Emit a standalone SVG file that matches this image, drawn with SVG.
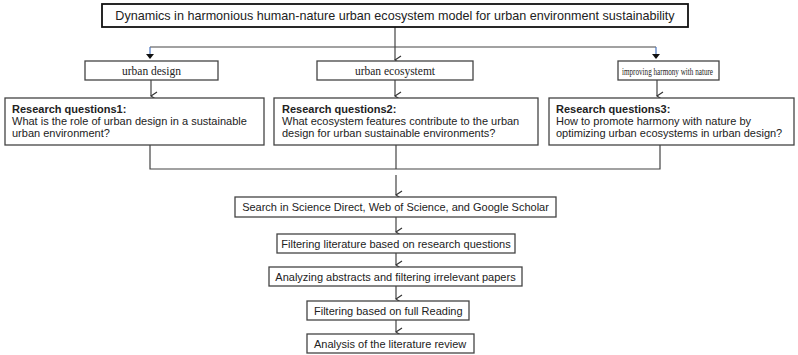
<svg xmlns="http://www.w3.org/2000/svg" width="798" height="355" viewBox="0 0 798 355">
<style>
.box{fill:#fff;stroke:#444;stroke-width:1.3}
.title{fill:#fff;stroke:#111;stroke-width:1.8}
.sans{font-family:"Liberation Sans",Arial,sans-serif;font-size:11px;fill:#222}
.ser{font-family:"Liberation Serif","Times New Roman",serif;font-size:11.5px;fill:#222}
.b{font-weight:bold}
.ln{fill:none;stroke:#444;stroke-width:1.2}
.blue{fill:none;stroke:#4a76c0;stroke-width:1.2}
</style>
<defs>
<marker id="open" markerWidth="10" markerHeight="10" refX="5" refY="9" orient="auto-start-reverse" markerUnits="userSpaceOnUse" viewBox="0 0 10 10">
<path d="M1,3 L5,9 L9,3" fill="none" stroke="#333" stroke-width="1.2"/>
</marker>
</defs>
<g id="connectors">
<path class="ln" d="M395,27 V60" marker-end="url(#open)"/>
<path class="ln" d="M150,47 H656"/>
<path class="blue" d="M150,47 V54"/>
<path d="M146,54 H154 L150,59 Z" fill="#111"/>
<path class="blue" d="M656,47 V54"/>
<path d="M652,54 H660 L656,59 Z" fill="#111"/>
<path class="ln" d="M151,80 V96" marker-end="url(#open)"/>
<path class="ln" d="M395,80 V96" marker-end="url(#open)"/>
<path class="ln" d="M657,80 V96" marker-end="url(#open)"/>
<path class="ln" d="M150,145 V169 H660 V145"/>
<path class="ln" d="M396,145 V169"/>
<path class="ln" d="M396,175 V195" marker-end="url(#open)"/>
<path class="ln" d="M396,217 V232" marker-end="url(#open)"/>
<path class="ln" d="M396,253 V265" marker-end="url(#open)"/>
<path class="ln" d="M396,286 V299" marker-end="url(#open)"/>
<path class="ln" d="M396,320 V332" marker-end="url(#open)"/>
</g>
<g id="title">
<rect class="title" x="102" y="4" width="586" height="23"/>
<text x="395" y="20" text-anchor="middle" class="sans" style="font-size:12.6px">Dynamics in harmonious human-nature urban ecosystem model for urban environment sustainability</text>
</g>
<g id="urban-design">
<rect class="box" x="85" y="61" width="133" height="19"/>
<text x="151.5" y="75" text-anchor="middle" class="ser">urban design</text>
</g>
<g id="urban-ecosystemt">
<rect class="box" x="317" y="61" width="156" height="19"/>
<text x="395" y="75" text-anchor="middle" class="ser">urban ecosystemt</text>
</g>
<g id="improving-harmony">
<rect class="box" x="618" y="61" width="101" height="19"/>
<text x="622" y="74.5" class="ser" style="font-size:10.5px" textLength="91" lengthAdjust="spacingAndGlyphs">improving harmony with nature</text>
</g>
<g id="rq1">
<rect class="box" x="5" y="98" width="259" height="47"/>
<text x="12" y="113" class="sans b">Research questions1:</text>
<text x="12" y="125" class="sans">What is the role of urban design in a sustainable</text>
<text x="12" y="136.5" class="sans">urban environment?</text>
</g>
<g id="rq2">
<rect class="box" x="274" y="98" width="264" height="47"/>
<text x="282" y="113" class="sans b">Research questions2:</text>
<text x="282" y="125" class="sans">What ecosystem features contribute to the urban</text>
<text x="282" y="136.5" class="sans">design for urban sustainable environments?</text>
</g>
<g id="rq3">
<rect class="box" x="549" y="98" width="245" height="47"/>
<text x="556" y="113" class="sans b">Research questions3:</text>
<text x="556" y="125" class="sans">How to promote harmony with nature by</text>
<text x="556" y="136.5" class="sans">optimizing urban ecosystems in urban design?</text>
</g>
<g id="search">
<rect class="box" x="235" y="197" width="321" height="20"/>
<text x="395.5" y="211" text-anchor="middle" class="sans">Search in Science Direct, Web of Science, and Google Scholar</text>
</g>
<g id="filter-rq">
<rect class="box" x="277" y="234" width="238" height="19"/>
<text x="396" y="247.5" text-anchor="middle" class="sans">Filtering literature based on research questions</text>
</g>
<g id="analyzing">
<rect class="box" x="269" y="267" width="253" height="19"/>
<text x="395.5" y="280.5" text-anchor="middle" class="sans">Analyzing abstracts and filtering irrelevant papers</text>
</g>
<g id="full-reading">
<rect class="box" x="307" y="301" width="162" height="19"/>
<text x="314" y="314.5" class="sans">Filtering based on full Reading</text>
</g>
<g id="analysis">
<rect class="box" x="307" y="334" width="167" height="19"/>
<text x="314" y="347.5" class="sans">Analysis of the literature review</text>
</g>
</svg>
